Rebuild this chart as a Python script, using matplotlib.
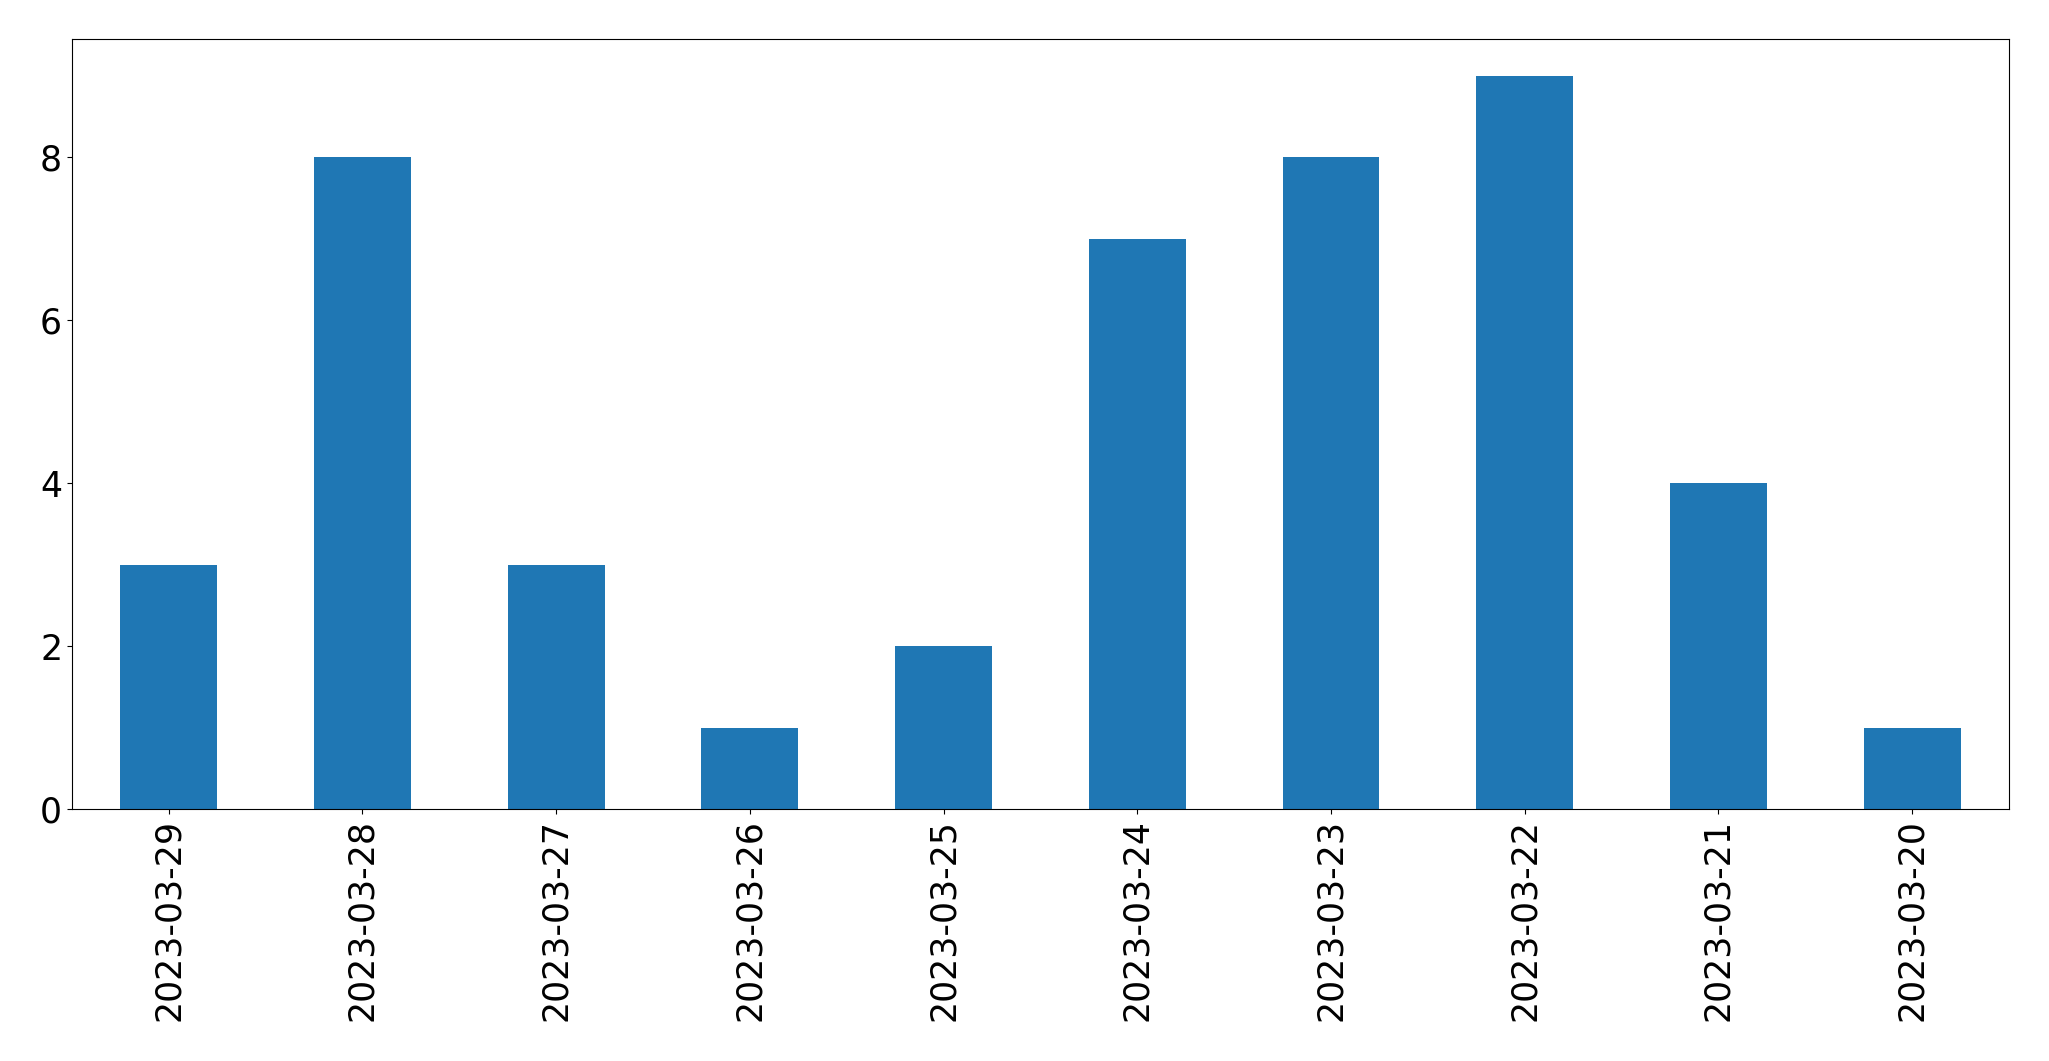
import matplotlib
matplotlib.use('Agg')
import matplotlib.pyplot as plt
import pandas as pd

dates = ['2023-03-29', '2023-03-28', '2023-03-27', '2023-03-26', '2023-03-25',
         '2023-03-24', '2023-03-23', '2023-03-22', '2023-03-21', '2023-03-20']
counts = [3, 8, 3, 1, 2, 7, 8, 9, 4, 1]

s = pd.Series(counts, index=dates)

fig = plt.figure(figsize=(20.49, 10.61), dpi=100)
ax = fig.add_axes([0.0351, 0.2375, 0.9454, 0.7257])
s.plot(kind='bar', ax=ax, color='#1f77b4', fontsize=25)
ax.tick_params(axis='x', labelrotation=90)
plt.savefig('out.png', dpi=100)
plt.close()
